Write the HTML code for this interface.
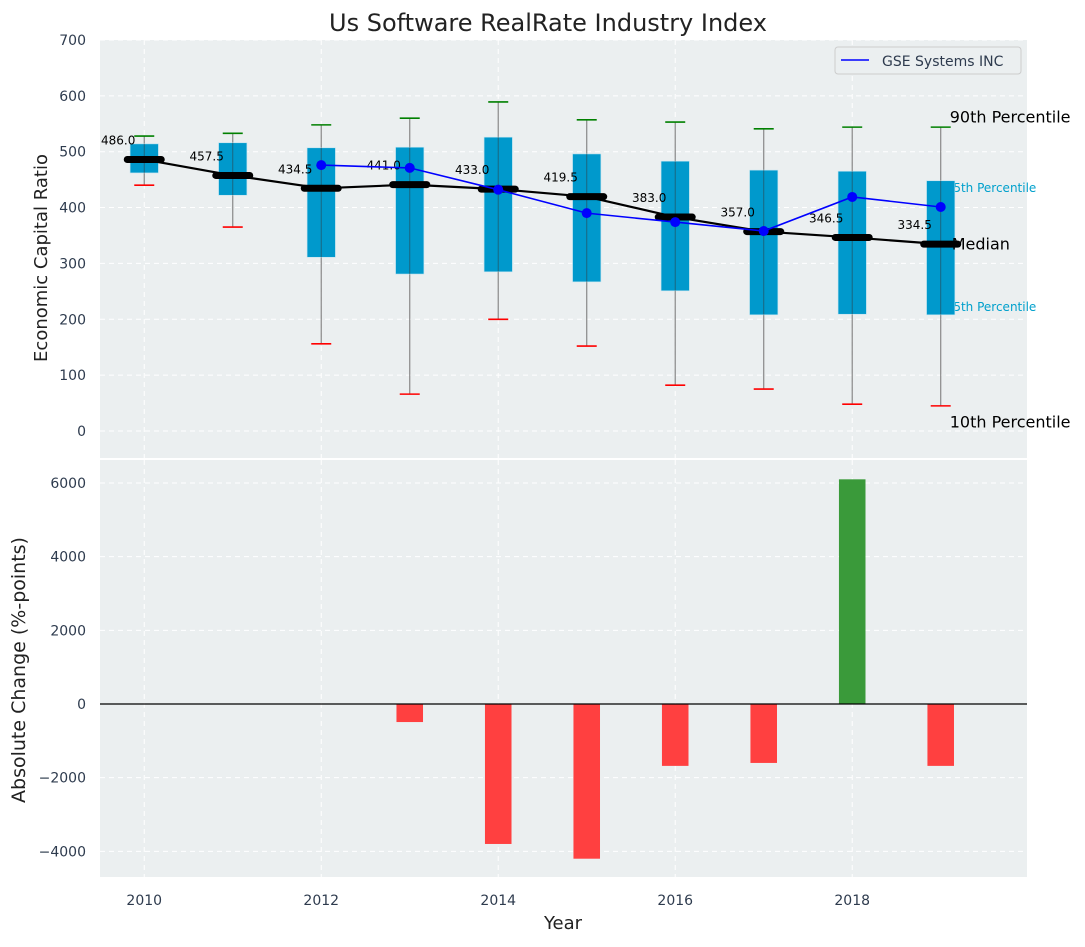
<!DOCTYPE html>
<html><head><meta charset="utf-8"><style>
body{margin:0;background:#fff;font-family:"Liberation Sans","DejaVu Sans",sans-serif}
svg text{font-family:"DejaVu Sans","Liberation Sans",sans-serif}
</style></head><body>
<svg id="c" width="1085" height="942" xmlns="http://www.w3.org/2000/svg"></svg>
<script>
const years=[2010,2011,2012,2013,2014,2015,2016,2017,2018,2019];
const p10=[440,365,156,66,200,152,82,75,48,45];
const q25=[462,422,311,281,285,267,251,208,209,208];
const medians=[486.0,457.5,434.5,441.0,433.0,419.5,383.0,357.0,346.5,334.5];
const q75=[514,516,507,508,526,496,483,467,465,448];
const p90=[528,533,548,560,589,557,553,541,544,544];
const companyYears=[2012,2013,2014,2015,2016,2017,2018,2019];
const companyValues=[476,471,432,390,374,358,419,401];
const changeValues=[0,0,0,-490,-3800,-4200,-1680,-1600,6100,-1680];
const topTicks=[0,100,200,300,400,500,600,700];
const bottomTicks=[-4000,-2000,0,2000,4000,6000];
const xTicks=[2010,2012,2014,2016,2018];

const svg=document.getElementById('c');
const NS='http://www.w3.org/2000/svg';
function mk(t,a,p){const e=document.createElementNS(NS,t);for(const k in a)e.setAttribute(k,a[k]);(p||svg).appendChild(e);return e;}
const X0=100,X1=1027,T0=40,T1=458,B0=460,B1=877;
const x=v=>X0+(v-2009.5)/(2019.975-2009.5)*(X1-X0);
const yt=v=>431-v*0.5586;
const yb=v=>704-v*(221/6000);
const pxYear=x(2011)-x(2010);

let e=mk('rect',{x:X0,y:T0,width:X1-X0,height:T1-T0,fill:'#ebeff0'});


e=mk('rect',{x:X0,y:B0,width:X1-X0,height:B1-B0,fill:'#ebeff0'});



xTicks.forEach(v=>{
  [[T0,T1],[B0,B1]].forEach(r=>{const g=mk('line',{x1:x(v),x2:x(v),y1:r[0],y2:r[1],stroke:'#fff','stroke-dasharray':'5,4','stroke-width':1});
  
  });
  const t=mk('text',{x:x(v),y:905,'text-anchor':'middle','font-size':14,fill:'#2e3b4e'});t.textContent=v;
  
  
});
topTicks.forEach(v=>{
  const g=mk('line',{x1:X0,x2:X1,y1:yt(v),y2:yt(v),stroke:'#fff','stroke-dasharray':'5,4'});
  
  
  const t=mk('text',{x:86,y:yt(v)+5,'text-anchor':'end','font-size':14,fill:'#2e3b4e'});t.textContent=v;
  
  
});
bottomTicks.forEach(v=>{
  const g=mk('line',{x1:X0,x2:X1,y1:yb(v),y2:yb(v),stroke:'#fff','stroke-dasharray':'5,4'});
  
  
  const t=mk('text',{x:86,y:yb(v)+5,'text-anchor':'end','font-size':14,fill:'#2e3b4e'});t.textContent=String(v).replace('-','\u2212');
  
  
});

const last=years.length-1;
const rl=[['75th Percentile',q75[last]-13,'#00a0cc',12],['25th Percentile',q25[last]+14,'#00a0cc',12]];
rl.forEach(r=>{const t=mk('text',{x:x(2019)+5,y:yt(r[1])+4,'font-size':r[3],fill:r[2]});t.textContent=r[0];
  
  });

const bw=0.32*pxYear;
years.forEach((yr,i)=>{
  const cx=x(yr);
  let l=mk('line',{x1:cx,x2:cx,y1:yt(p10[i]),y2:yt(p90[i]),stroke:'#888','stroke-width':1.2});
  
  
  let b=mk('rect',{x:cx-bw/2,y:yt(q75[i]),width:bw,height:yt(q25[i])-yt(q75[i]),fill:'#0099cc',stroke:'#bfe3ef','stroke-width':0.6});
  
  
  l=mk('line',{x1:cx,x2:cx,y1:yt(q25[i]),y2:yt(q75[i]),stroke:'#333','stroke-opacity':0.5,'stroke-width':1});
  
  
  l=mk('line',{x1:cx-10,x2:cx+10,y1:yt(p90[i]),y2:yt(p90[i]),stroke:'green','stroke-width':1.6});
  
  
  l=mk('line',{x1:cx-10,x2:cx+10,y1:yt(p10[i]),y2:yt(p10[i]),stroke:'red','stroke-width':1.6});
  
  
});
let pl=mk('polyline',{points:years.map((yr,i)=>x(yr)+','+yt(medians[i])).join(' '),fill:'none',stroke:'#000','stroke-width':2.2});


years.forEach((yr,i)=>{
  const cx=x(yr);
  const m=mk('line',{x1:cx-17,x2:cx+17,y1:yt(medians[i]),y2:yt(medians[i]),stroke:'#000','stroke-width':7,'stroke-linecap':'round'});
  
  
  const t=mk('text',{x:cx-0.1*pxYear,y:yt(medians[i])-15,'text-anchor':'end','font-size':12,fill:'#000'});t.textContent=medians[i].toFixed(1);
  
  
});
pl=mk('polyline',{points:companyYears.map((yr,i)=>x(yr)+','+yt(companyValues[i])).join(' '),fill:'none',stroke:'blue','stroke-width':1.6});


companyYears.forEach((yr,i)=>{const c=mk('circle',{cx:x(yr),cy:yt(companyValues[i]),r:5,fill:'blue'});
  
  });

[['90th Percentile',p90[last]+19,16],['Median',medians[last]+1,16],['10th Percentile',p10[last]-28,16]].forEach((r,k)=>{
  const t=mk('text',{x:k==1?x(2019)+11:x(2019)+9,y:yt(r[1])+6,'font-size':r[2],fill:'#000'});t.textContent=r[0];
  
  });

let lg=mk('g',{});


mk('rect',{x:835,y:47,width:186,height:27,rx:3,fill:'#ebeff0',stroke:'#ccc'},lg);
mk('line',{x1:841,x2:869,y1:60,y2:60,stroke:'blue','stroke-width':1.6},lg);
let lt=mk('text',{x:882,y:66,'font-size':14,fill:'#2e3b4e'},lg);lt.textContent='GSE Systems INC';

years.forEach((yr,i)=>{
  const v=changeValues[i];if(v===0)return;
  const r=mk('rect',{x:x(yr)-0.15*pxYear,y:Math.min(yb(v),yb(0)),width:0.3*pxYear,height:Math.abs(yb(v)-yb(0)),fill:v>0?'#3a9a3a':'#ff4040'});
  
  
});
let zl=mk('line',{x1:X0,x2:X1,y1:yb(0),y2:yb(0),stroke:'#000','stroke-width':1.2});



let t=mk('text',{x:548,y:31,'text-anchor':'middle','font-size':24,fill:'#222'});t.textContent='Us Software RealRate Industry Index';


t=mk('text',{x:563,y:929,'text-anchor':'middle','font-size':18,fill:'#222'});t.textContent='Year';


t=mk('text',{x:0,y:0,'text-anchor':'middle','font-size':18,fill:'#222',transform:'translate(47,258) rotate(-90)'});t.textContent='Economic Capital Ratio';


t=mk('text',{x:0,y:0,'text-anchor':'middle','font-size':19,fill:'#222',transform:'translate(25,670) rotate(-90)'});t.textContent='Absolute Change (%-points)';


</script>
</body></html>
